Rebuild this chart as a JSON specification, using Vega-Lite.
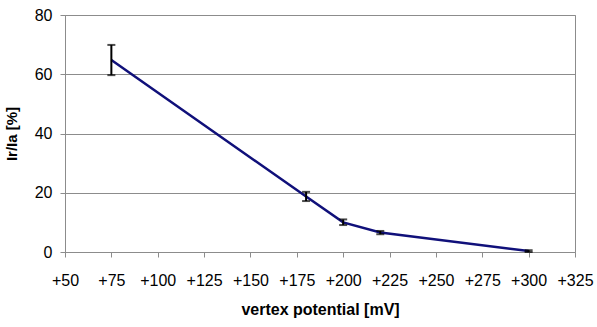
{
  "$schema": "https://vega.github.io/schema/vega-lite/v6.json",
  "width": 510,
  "height": 237,
  "autosize": {"type": "none"},
  "padding": {"left": 65, "top": 15, "right": 22, "bottom": 75},
  "background": "white",
  "config": {
    "font": "Liberation Sans",
    "view": {"stroke": "#8c8c8c", "strokeWidth": 1},
    "axis": {
      "labelFont": "Liberation Sans",
      "titleFont": "Liberation Sans",
      "labelFontSize": 16,
      "labelColor": "#000000",
      "titleColor": "#000000",
      "titleFontWeight": "bold",
      "domainColor": "#8c8c8c",
      "tickColor": "#8c8c8c",
      "tickSize": 5,
      "gridColor": "#8c8c8c",
      "gridWidth": 1
    }
  },
  "data": {
    "values": [
      {"potential": 75, "ratio": 64.8, "lo": 59.7, "hi": 69.9},
      {"potential": 180, "ratio": 18.7, "lo": 17.2, "hi": 20.3},
      {"potential": 200, "ratio": 10.0, "lo": 9.1, "hi": 11.0},
      {"potential": 220, "ratio": 6.6, "lo": 6.0, "hi": 7.1},
      {"potential": 300, "ratio": 0.3, "lo": 0.0, "hi": 0.6}
    ]
  },
  "encoding": {
    "x": {
      "field": "potential",
      "type": "quantitative",
      "scale": {"domain": [50, 325], "nice": false, "zero": false},
      "axis": {
        "title": "vertex potential [mV]",
        "titleFontSize": 16,
        "titlePadding": 13,
        "values": [50, 75, 100, 125, 150, 175, 200, 225, 250, 275, 300, 325],
        "labelExpr": "'+' + datum.value",
        "labelPadding": 15,
        "labelFlush": false,
        "labelOverlap": false,
        "grid": false
      }
    }
  },
  "layer": [
    {
      "mark": {"type": "line", "color": "#10107a", "strokeWidth": 2.5},
      "encoding": {
        "y": {
          "field": "ratio",
          "type": "quantitative",
          "title": "Ir/Ia [%]",
          "scale": {"domain": [0, 80], "nice": false},
          "axis": {
            "titleFontSize": 15,
            "titlePadding": 15,
            "values": [0, 10, 20, 30, 40, 50, 60, 70, 80],
            "labelExpr": "datum.value % 20 == 0 ? datum.label : ''",
            "labelPadding": 8,
            "grid": true,
            "gridOpacity": {"condition": {"test": "datum.value % 20 == 0 && datum.value > 0", "value": 1}, "value": 0}
          }
        }
      }
    },
    {
      "mark": {
        "type": "errorbar",
        "ticks": {"size": 8, "thickness": 2, "color": "#000000"},
        "rule": {"strokeWidth": 2, "color": "#000000"}
      },
      "encoding": {
        "y": {"field": "lo", "type": "quantitative", "title": "Ir/Ia [%]"},
        "y2": {"field": "hi"}
      }
    }
  ]
}
